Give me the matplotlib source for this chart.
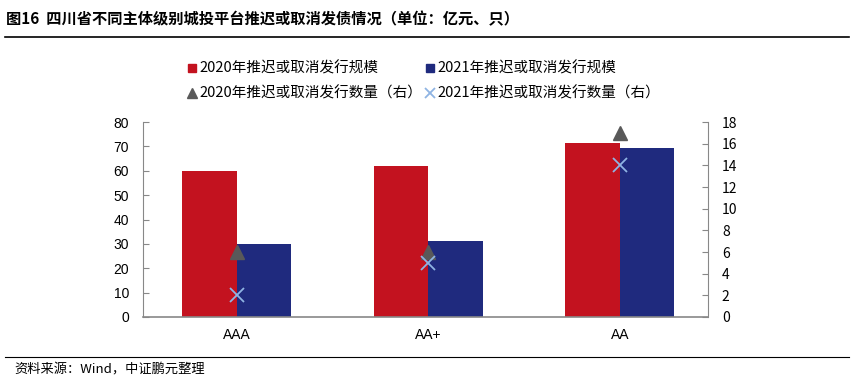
import matplotlib
matplotlib.use("Agg")
import matplotlib.pyplot as plt
from matplotlib.lines import Line2D
import numpy as np

plt.rcParams['font.family'] = ['Noto Sans CJK SC', 'DejaVu Sans']

categories = ["AAA", "AA+", "AA"]
scale_2020 = [60, 62, 71.5]
scale_2021 = [30, 31, 69.3]
count_2020 = [6, 6, 17]
count_2021 = [2, 5, 14]

red = "#C3121F"
blue = "#1F2A7E"
tri_c = "#595959"
x_c = "#8FB4E3"
spine_c = "#888888"

fig = plt.figure(figsize=(8.54, 3.85), dpi=100)
ax = fig.add_axes([143/854, 1-317/385, (708-143)/854, (317-122)/385])
ax2 = ax.twinx()

x = np.arange(len(categories))
w = 0.285
ax.bar(x - w/2, scale_2020, w, color=red, label="2020年推迟或取消发行规模")
ax.bar(x + w/2, scale_2021, w, color=blue, label="2021年推迟或取消发行规模")
ax2.plot(x, count_2020, linestyle="none", marker="^", markersize=10, color=tri_c,
         label="2020年推迟或取消发行数量（右）")
ax2.plot(x, count_2021, linestyle="none", marker="x", markersize=10, markeredgewidth=1.3,
         color=x_c, label="2021年推迟或取消发行数量（右）")

ax.set_xlim(-0.49, 2.46)
ax.set_ylim(0, 80)
ax.set_yticks(range(0, 81, 10))
ax2.set_ylim(0, 18)
ax2.set_yticks(range(0, 19, 2))
ax.set_xticks(x)
ax.set_xticklabels(categories)

for a in (ax, ax2):
    for s in a.spines.values():
        s.set_visible(False)
    a.tick_params(labelsize=10, colors="black", length=4, width=0.8)
    a.tick_params(axis='y', color=spine_c)
ax.spines['left'].set_visible(True)
ax.spines['left'].set_color(spine_c)
ax.spines['bottom'].set_visible(True)
ax.spines['bottom'].set_color(spine_c)
ax.spines['bottom'].set_linewidth(1.2)
ax2.spines['right'].set_visible(True)
ax2.spines['right'].set_color(spine_c)
ax.tick_params(axis='x', length=0, pad=8)
ax.tick_params(axis='y', direction='in', pad=10)
ax2.tick_params(axis='y', direction='in', pad=10)
for lbl in ax.get_yticklabels() + ax.get_xticklabels():
    lbl.set_family(['Liberation Sans', 'DejaVu Sans'])

handles = [
    Line2D([], [], linestyle="none", marker="s", markersize=6, color=red),
    Line2D([], [], linestyle="none", marker="s", markersize=6, color=blue),
    Line2D([], [], linestyle="none", marker="^", markersize=7, color=tri_c),
    Line2D([], [], linestyle="none", marker="x", markersize=7, markeredgewidth=1.3, color=x_c),
]
labels = ["2020年推迟或取消发行规模", "2021年推迟或取消发行规模",
          "2020年推迟或取消发行数量（右）", "2021年推迟或取消发行数量（右）"]
fig.legend([handles[0], handles[2], handles[1], handles[3]],
           [labels[0], labels[2], labels[1], labels[3]],
           ncol=2, loc="center", bbox_to_anchor=(424/854, 1-81/385),
           frameon=False, fontsize=10.5, handlelength=0.6, handletextpad=0.2,
           columnspacing=0.2, labelspacing=0.72)

fig.text(6/854, 1-19/385, "图16  四川省不同主体级别城投平台推迟或取消发债情况（单位：亿元、只）",
         fontsize=11, fontweight="bold", va="center", ha="left")
fig.add_artist(Line2D([5/854, 849/854], [1-37/385, 1-37/385], color="black", lw=1.2))
fig.add_artist(Line2D([5/854, 849/854], [1-357/385, 1-357/385], color="black", lw=0.8))
fig.text(14/854, 1-370/385, "资料来源：Wind，中证鹏元整理", fontsize=9.5, va="center", ha="left")

fig.savefig("out.png", dpi=100)
